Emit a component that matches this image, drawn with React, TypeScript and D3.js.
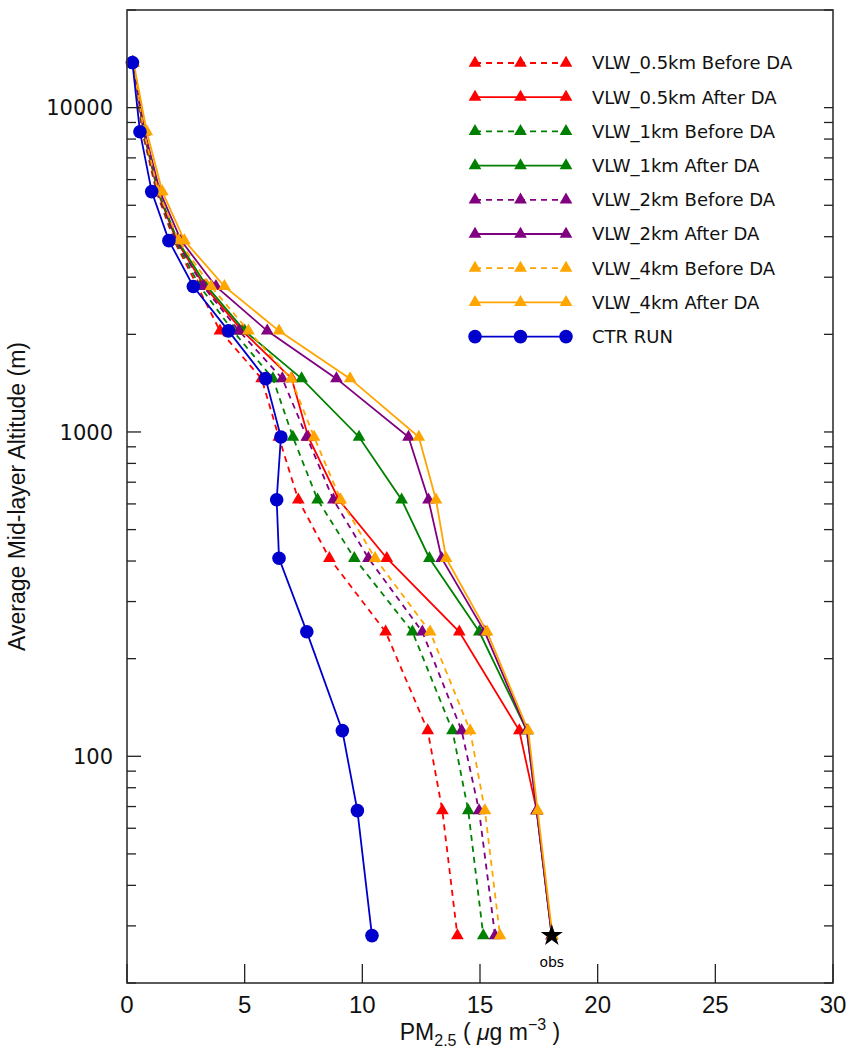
import React, { useEffect, useRef } from 'react';
import * as d3 from 'd3';

// mid-layer altitudes (m), top of the column first
const altitudes = [13770, 8430, 5510, 3890, 2810, 2050, 1460, 965, 618, 408, 242, 120, 68, 28];

// PM2.5 profiles (ug m-3) at each altitude
const vlw05Before = [0.25, 0.65, 1.25, 2.0, 3.0, 3.95, 5.72, 6.45, 7.28, 8.6, 10.99, 12.78, 13.4, 14.04];
const vlw05After = [0.25, 0.7, 1.3, 2.1, 3.3, 4.9, 7.0, 7.7, 9.0, 11.04, 14.12, 16.67, 17.41, 18.05];
const vlw1Before = [0.25, 0.68, 1.28, 2.05, 3.1, 4.5, 6.2, 7.05, 8.1, 9.66, 12.13, 13.83, 14.5, 15.14];
const vlw1After = [0.25, 0.72, 1.33, 2.15, 3.4, 5.0, 7.42, 9.86, 11.67, 12.85, 14.97, 16.99, 17.41, 18.05];
const vlw2Before = [0.25, 0.7, 1.3, 2.1, 3.24, 4.76, 6.6, 7.64, 8.77, 10.26, 12.55, 14.22, 14.96, 15.64];
const vlw2After = [0.25, 0.75, 1.4, 2.3, 3.78, 5.96, 8.9, 11.96, 12.81, 13.37, 15.2, 16.99, 17.41, 18.05];
const vlw4Before = [0.25, 0.72, 1.33, 2.2, 3.57, 5.16, 6.97, 7.95, 9.08, 10.54, 12.88, 14.58, 15.21, 15.85];
const vlw4After = [0.28, 0.84, 1.5, 2.44, 4.14, 6.46, 9.48, 12.4, 13.13, 13.56, 15.3, 17.05, 17.45, 18.08];
const ctrRun = [0.23, 0.55, 1.05, 1.78, 2.82, 4.31, 5.89, 6.54, 6.36, 6.46, 7.64, 9.15, 9.79, 10.41];

// surface observation
const obsValue = 18.05;
const obsAltitude = 28;

const xTicks = [0, 5, 10, 15, 20, 25, 30];
const yMajorTicks = [100, 1000, 10000];

const series = [
  { name: 'VLW_0.5km Before DA', values: vlw05Before, color: '#ff0000', dashed: true, marker: 'tri' },
  { name: 'VLW_0.5km After DA', values: vlw05After, color: '#ff0000', dashed: false, marker: 'tri' },
  { name: 'VLW_1km Before DA', values: vlw1Before, color: '#008000', dashed: true, marker: 'tri' },
  { name: 'VLW_1km After DA', values: vlw1After, color: '#008000', dashed: false, marker: 'tri' },
  { name: 'VLW_2km Before DA', values: vlw2Before, color: '#800080', dashed: true, marker: 'tri' },
  { name: 'VLW_2km After DA', values: vlw2After, color: '#800080', dashed: false, marker: 'tri' },
  { name: 'VLW_4km Before DA', values: vlw4Before, color: '#ffa500', dashed: true, marker: 'tri' },
  { name: 'VLW_4km After DA', values: vlw4After, color: '#ffa500', dashed: false, marker: 'tri' },
  { name: 'CTR RUN', values: ctrRun, color: '#0000cd', dashed: false, marker: 'circle' },
];

const W = 850;
const H = 1058;
const margin = { left: 127, right: 17, top: 10, bottom: 75 };

const App = () => {
  const ref = useRef<SVGSVGElement>(null);

  useEffect(() => {
    const svg = d3.select(ref.current);
    svg.selectAll('*').remove();

    const x = d3.scaleLinear().domain([0, 30]).range([margin.left, W - margin.right]);
    const y = d3.scaleLog().domain([20, 20000]).range([H - margin.bottom, margin.top]);
    const [x0, x1] = x.range();
    const [y0, y1] = y.range();

    const tri = d3.symbol().type(d3.symbolTriangle).size(70);
    const star = d3.symbol().type(d3.symbolStar).size(150);

    const drawMarker = (g, s, cx, cy) => {
      if (s.marker === 'circle') {
        g.append('circle').attr('cx', cx).attr('cy', cy).attr('r', 6.8).attr('fill', s.color);
      } else {
        g.append('path').attr('d', tri).attr('transform', `translate(${cx},${cy})`).attr('fill', s.color);
      }
    };

    // profiles
    const line = d3
      .line<number>()
      .x(d => x(d))
      .y((d, i) => y(altitudes[i]));

    series.forEach(s => {
      const g = svg.append('g');
      g.append('path')
        .attr('d', line(s.values))
        .attr('fill', 'none')
        .attr('stroke', s.color)
        .attr('stroke-width', 1.8)
        .attr('stroke-dasharray', s.dashed ? '6,5' : null);
      s.values.forEach((v, i) => drawMarker(g, s, x(v), y(altitudes[i])));
    });

    // observation star
    svg.append('path')
      .attr('d', star)
      .attr('transform', `translate(${x(obsValue)},${y(obsAltitude)})`)
      .attr('fill', '#000');
    svg.append('text')
      .attr('x', x(obsValue))
      .attr('y', y(obsAltitude) + 31)
      .attr('text-anchor', 'middle')
      .style('font-family', 'DejaVu Sans, sans-serif')
      .style('font-size', '14px')
      .text('obs');

    // frame
    svg.append('rect')
      .attr('x', x0).attr('y', y1)
      .attr('width', x1 - x0).attr('height', y0 - y1)
      .attr('fill', 'none').attr('stroke', '#333').attr('stroke-width', 1.6);

    const axis = svg.append('g').attr('stroke', '#222').attr('stroke-width', 1.3);

    // x ticks, pointing into the plot
    xTicks.forEach(t => {
      axis.append('line').attr('x1', x(t)).attr('x2', x(t)).attr('y1', y0).attr('y2', y0 - 19);
    });
    svg.selectAll('.xlab')
      .data(xTicks)
      .enter()
      .append('text')
      .attr('x', d => x(d))
      .attr('y', y0 + 30)
      .attr('text-anchor', 'middle')
      .style('font-family', 'Liberation Sans Narrow, Arial Narrow, sans-serif')
      .style('font-size', '24px')
      .style('fill', '#111')
      .text(d => d);

    // y ticks: decades long, intermediate ones short; both sides
    const minor = [];
    for (let dec = 10; dec <= 10000; dec *= 10) {
      for (let k = 2; k <= 9; k++) {
        const v = k * dec;
        if (v >= 20 && v <= 20000) minor.push(v);
      }
    }
    yMajorTicks.forEach(t => {
      axis.append('line').attr('x1', x0).attr('x2', x0 + 14).attr('y1', y(t)).attr('y2', y(t));
      axis.append('line').attr('x1', x1).attr('x2', x1 - 9).attr('y1', y(t)).attr('y2', y(t));
    });
    minor.forEach(t => {
      axis.append('line').attr('x1', x0).attr('x2', x0 + 9).attr('y1', y(t)).attr('y2', y(t));
      axis.append('line').attr('x1', x1).attr('x2', x1 - 9).attr('y1', y(t)).attr('y2', y(t));
    });
    svg.selectAll('.ylab')
      .data(yMajorTicks)
      .enter()
      .append('text')
      .attr('x', x0 - 14)
      .attr('y', d => y(d))
      .attr('dy', '0.36em')
      .attr('text-anchor', 'end')
      .style('font-family', 'DejaVu Sans, sans-serif')
      .style('font-size', '21px')
      .style('fill', '#111')
      .text(d => d);

    // axis titles
    svg.append('text')
      .attr('transform', `translate(25,${(y0 + y1) / 2}) rotate(-90)`)
      .attr('text-anchor', 'middle')
      .style('font-family', 'Liberation Sans Narrow, Arial Narrow, sans-serif')
      .style('font-size', '23px')
      .style('fill', '#111')
      .text('Average Mid-layer Altitude (m)');

    const xt = svg.append('text')
      .attr('x', (x0 + x1) / 2)
      .attr('y', 1040)
      .attr('text-anchor', 'middle')
      .style('font-family', 'Liberation Sans Narrow, Arial Narrow, sans-serif')
      .style('font-size', '23px')
      .style('fill', '#111');
    xt.append('tspan').text('PM');
    xt.append('tspan').attr('dy', 6).style('font-size', '16px').text('2.5');
    xt.append('tspan').attr('dy', -6).text(' ( ');
    xt.append('tspan').style('font-style', 'italic').text('\u03bc');
    xt.append('tspan').text('g m');
    xt.append('tspan').attr('dy', -10).style('font-size', '16px').text('\u22123');
    xt.append('tspan').attr('dy', 10).text(' )');

    // legend
    const lg = svg.append('g');
    series.forEach((s, i) => {
      const ly = 63 + i * 34.2;
      const row = lg.append('g');
      row.append('line')
        .attr('x1', 475).attr('x2', 566).attr('y1', ly).attr('y2', ly)
        .attr('stroke', s.color)
        .attr('stroke-width', 1.8)
        .attr('stroke-dasharray', s.dashed ? '6,5' : null);
      [475, 520.5, 566].forEach(cx => drawMarker(row, s, cx, ly));
      row.append('text')
        .attr('x', 592)
        .attr('y', ly)
        .attr('dy', '0.36em')
        .style('font-family', 'DejaVu Sans, sans-serif')
        .style('font-size', '18px')
        .style('fill', '#111')
        .text(s.name);
    });
  }, []);

  return (
    <svg
      ref={ref}
      width={W}
      height={H}
      style={{ position: 'absolute', left: 0, top: 0, background: '#fff' }}
    />
  );
};

export default App;
